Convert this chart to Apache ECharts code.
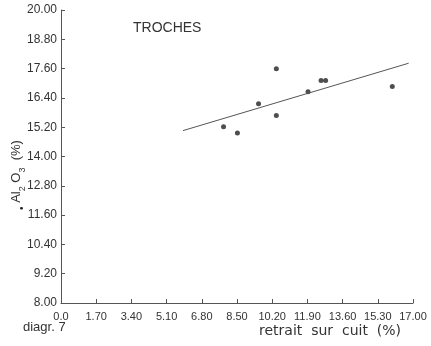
<!DOCTYPE html>
<html>
<head>
<meta charset="utf-8">
<script src="https://cdn.jsdelivr.net/npm/echarts@6/dist/echarts.min.js"></script>
<style>
  html, body { margin: 0; padding: 0; background: #fff; }
  #chart { width: 431px; height: 346px; }
</style>
</head>
<body>
<div id="chart"></div>
<script>
// retrait sur cuit (%) vs Al2O3 (%), TROCHES
const shrinkX = [7.85, 8.52, 9.54, 10.40, 10.40, 11.93, 12.56, 12.78, 16.00];
const aluminaY = [15.22, 14.96, 16.16, 17.59, 15.68, 16.65, 17.11, 17.11, 16.87];
// regression line end points
const trendX = [5.89, 16.79];
const trendY = [15.06, 17.82];
const xTicks = ["0.0", "1.70", "3.40", "5.10", "6.80", "8.50", "10.20", "11.90", "13.60", "15.30", "17.00"];
const yTicks = ["8.00", "9.20", "10.40", "11.60", "12.80", "14.00", "15.20", "16.40", "17.60", "18.80", "20.00"];

const chart = echarts.init(document.getElementById("chart"));
const ink = "#333";
const font = "Liberation Sans";

const option = {
  animation: false,
  backgroundColor: "#fff",
  title: {
    text: "TROCHES",
    left: 128,
    top: 16,
    textStyle: { fontSize: 14, fontWeight: "normal", color: ink, fontFamily: font }
  },
  grid: { left: 61, right: 18, top: 10, bottom: 43 },
  xAxis: {
    type: "value",
    min: 0,
    max: 17,
    interval: 1.7,
    splitLine: { show: false },
    axisLine: { lineStyle: { color: "#555", width: 1 } },
    axisTick: { inside: true, length: 4, lineStyle: { color: "#555" } },
    axisLabel: {
      color: ink, fontSize: 11, fontFamily: font, margin: 8,
      formatter: (v, i) => xTicks[i]
    }
  },
  yAxis: {
    type: "value",
    min: 8,
    max: 20,
    interval: 1.2,
    splitLine: { show: false },
    axisLine: { show: true, lineStyle: { color: "#555", width: 1 } },
    axisTick: { show: true, inside: true, length: 4, lineStyle: { color: "#555" } },
    axisLabel: {
      color: ink, fontSize: 12, fontFamily: font, margin: 4,
      formatter: (v, i) => yTicks[i]
    }
  },
  graphic: [
    { type: "text", left: 23, top: 321, style: { text: "diagr. 7", fontSize: 13, fontFamily: font, fill: ink } },
    { type: "text", left: 259, top: 324, style: { text: "retrait  sur  cuit  (%)", fontSize: 14, fontFamily: "DejaVu Sans", fill: ink } },
    {
      type: "text",
      x: 16,
      y: 175,
      rotation: Math.PI / 2,
      style: {
        text: "{d|•}{n| Al}{s|2}{n| O}{s|3}{n|  (%)}",
        align: "center",
        verticalAlign: "middle",
        fill: ink,
        rich: {
          n: { fontSize: 13, fontFamily: font, fill: ink },
          s: { fontSize: 9, fontFamily: font, fill: ink, verticalAlign: "bottom", padding: [6, 0, 0, 0] },
          d: { fontSize: 10, fill: "#222", padding: [12, 0, 0, 0] }
        }
      }
    }
  ],
  series: [
    {
      type: "line",
      data: trendX.map((x, i) => [x, trendY[i]]),
      showSymbol: false,
      lineStyle: { color: "#555", width: 1 },
      silent: true
    },
    {
      type: "scatter",
      data: shrinkX.map((x, i) => [x, aluminaY[i]]),
      symbolSize: 5,
      itemStyle: { color: "#222" }
    }
  ]
};
chart.setOption(option);
</script>
</body>
</html>
